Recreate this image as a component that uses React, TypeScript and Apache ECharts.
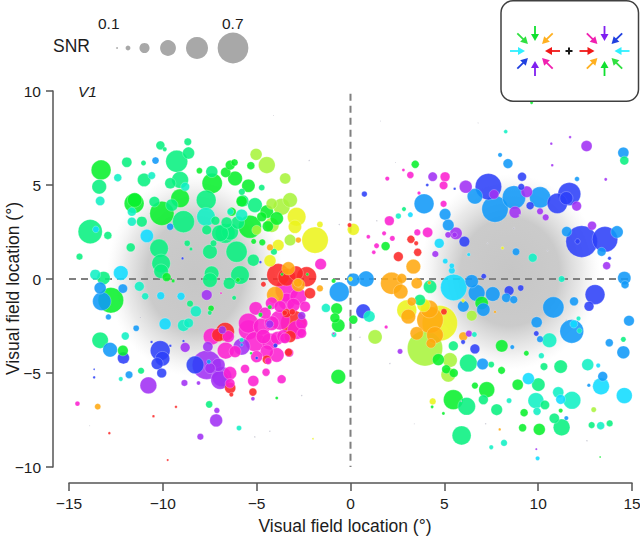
import React, { useEffect, useRef } from "react";
import * as echarts from "echarts";

type P = [number, number, number];

const xTicks = { min: -15, max: 15, step: 5 };
const yTicks = { min: -10, max: 10, step: 5 };
const legendSnr = [0.04, 0.11, 0.23, 0.36, 0.5, 0.7];
const arrowColors = ["#f01818", "#ffb020", "#10e030", "#30e040", "#30f0ff", "#2040e0", "#8020f0", "#f020b0"];

const green: P[] = [
  [-13.29,5.8,.45],[-11.53,4.02,.45],[-11.5,4.2,.33],[-10.05,3.49,.55],[-9.08,4.29,.42],[-7.37,5.09,.46],[-6.65,5.67,.23],[-6.41,6.06,.22],[-6.18,6.2,.16],[-6.15,5.35,.33],[-5.31,6.03,.18],[-5.44,4.96,.3],[-4.46,3.58,.3],[-3.93,3.22,.3],[-5.36,2.78,.52],[-4.73,3.31,.22],[-4.4,2.8,.25],[-5.16,2.0,.12],[-4.7,1.95,.15],[-8.05,5.76,.14],[-6.33,3.58,.2],[-5.8,4.13,.25],
  [-12.77,-1.13,.58],[-12.13,-3.81,.24],[-7.43,-1.56,.14],[-.74,-1.58,.26],[-.83,-2.07,.22],[-.65,-2.47,.3],[.15,-2.16,.2],[-.65,-5.2,.33],[4.68,-4.29,.27],[5.1,-4.8,.2],[5.5,-5,.2],[1.87,1.75,.2],[3.45,6.1,.18],[5.48,-6.42,.45],[6.63,-5.67,.15],[7.26,-5.89,.36],[8.05,-4.86,.17],[8.06,-3.56,.28],[8.91,-5.62,.25],[9.25,-7.11,.18],[9.17,-7.91,.18],[10.06,-8,.27],[11.2,-7,.1],[9.37,-3.95,.12],[6.99,-1.28,.3],[-3.93,-6.33,.07],[4.35,-6.8,.07],[4.95,-7.15,.07],[13.3,-9.47,.04],[9.65,9.38,.07],[-.9,-.1,.1],[-9.8,.1,.2],[-6.0,-.05,.1],[-9.45,-.1,.08],[-4.3,-1.5,.1],[-4.8,-1.9,.1],[-3.65,.25,.07],[-2.3,.25,.07],[-5.3,-3.95,.06],
];
const spring: P[] = [
  [-13.39,4.91,.33],[-13.87,2.52,.55],[-12.93,2.32,.18],[-14.44,1.19,.15],[-11.92,6.21,.23],[-11.03,6.17,.12],[-10.13,7.11,.2],[-9.9,6.9,.1],[-8.67,7.3,.17],[-9.26,6.26,.5],[-8.63,6.7,.27],[-11,5.27,.3],[-11.12,3.05,.24],[-11.71,1.68,.2],[-10.2,1.63,.42],[-10.09,.83,.42],[-9.52,3.93,.28],[-10.45,4.11,.24],[-9.6,5.09,.25],[-9.08,5.27,.38],[-8.9,3.05,.5],[-7.69,4.2,.45],[-7.66,2.61,.22],[-7.39,5.71,.27],[-5.79,4.64,.15],[-5.74,4.15,.27],[-4.73,4.86,.14],[-5.09,3.93,.33],[-6.68,2.43,.45],[-6.42,2.51,.38],[-6.95,2.43,.38],[-6.07,1.45,.48],[-7.49,1.45,.33],[-7.3,1.9,.15],[-8.7,1.9,.14],[-8.5,1.6,.08],[-5.18,1,.27],[-4.08,1.45,.15],[-6,3,.3],[-6.6,3,.25],[-7.2,3.1,.2],
  [-13.16,.05,.3],[-13.34,-3.26,.37],[-11.16,-4.88,.15],[-10.09,.41,.33],[-7.4,.3,.33],[-7.49,-.06,.33],[-8.55,-1.31,.15],[-6.46,-.23,.27],[-5.89,.21,.42],[-7.5,-1.8,.1],[-6.2,-1,.1],[-7.53,-6.67,.16],
  [4.24,-.41,.3],[3.7,-1.12,.25],[5.48,-3.56,.22],[6.28,-4.47,.4],[6.19,-6.77,.4],[5.92,-8.32,.43],[7.08,-6.42,.22],[7.79,-6.95,.26],[10.01,-5.62,.3],[10.36,-6.7,.21],[10.31,-4.66,.17],[11.2,-4.66,.3],[10.86,-7.41,.23],[11.25,-7.89,.38],[12.85,-7.77,.15],[13.81,-7.68,.15],[14.59,6.3,.2],[14.54,-3.21,.12],[2.85,3.72,.1],[7.5,-4.55,.14],
];
const teal: P[] = [
  [-13.34,4.15,.21],[-12.4,5.39,.18],[-10.59,5.5,.17],[-11.65,3.58,.2],[-11.65,3.05,.2],[-8.81,4.91,.2],[-7.7,3.31,.42],[-5.8,3.4,.27],[-6.4,3.58,.15],
  [-13.6,.23,.24],[-12,-3.03,.18],[-11.25,-.39,.22],[-10.94,-.92,.16],[-12.24,-5.32,.1],[-8.24,-1.72,.25],[-8.63,-2.34,.22],[-8.9,-2.47,.27],[-5.94,-7.93,.12],[-5.8,-3.24,.1],
  [-1.31,-1.54,.2],[-.88,-2.96,.12],[1,-1.99,.26],[2.55,3.35,.13],[8.27,7.84,.09],[9.71,1.13,.2],[11.25,0,.15],[10.6,-3.26,.33],[10.17,-4.08,.13],[12.64,-4.56,.27],[11.07,-6.03,.25],[11.8,-6.45,.4],[9.88,-6.47,.36],[9.94,-7.04,.18],[8.45,-6.47,.12],[7.5,-8.95,.1],[8.18,-8.72,.15],[13.33,-7.8,.18],[6.6,-2.95,.12],[12.2,-2.75,.12],[12.15,-2.1,.1],
];
const cyan: P[] = [
  [-13.57,2.64,.15],[-12.24,.32,.33],[-10.85,2.29,.3],[-9.88,-2.39,.27],[-10.11,-.89,.18],[-9.03,-.92,.18],[4.73,1.9,.22],[5.05,.95,.12],[5.4,.7,.12],[5.4,.45,.15],[3.19,3.42,.12],[5.5,-.45,.6],[9.48,-5.3,.27],[13.35,-5.71,.38],[14.59,-6.2,.36],[11.2,-6.4,.22],[9.97,-9.54,.1],[13.2,-4.6,.1],[11.9,-2.4,.18],[6.3,1.3,.08],
];
const azure: P[] = [
  [-10.39,6.3,.16],[-9.61,2.78,.16],[-13.34,-.48,.27],[-12.13,-.51,.21],[-13.25,-1.19,.42],[-12.9,-2.02,.13],[-11.42,-2.62,.14],[-11.8,-5.09,.17],[-12.81,-3.76,.33],
  [3.92,4,.45],[5.04,3.44,.26],[5.21,2.87,.26],[6.63,4.4,.35],[7.7,3.72,.6],[8.71,4.34,.53],[10.1,4.34,.48],[11.52,2.52,.23],[14.54,6.72,.25],[8.39,6.14,.22],[7.97,6.6,.1],[12.07,5.32,.11],[13.38,1.45,.2],[8.82,1.45,.17],[14.2,2.5,.28],
  [-.6,-.69,.45],[.15,-.04,.3],[.83,0,.36],[7.08,-1.63,.3],[6.72,-.74,.38],[6.01,-1.45,.26],[6.46,-.12,.3],[7.58,-.8,.33],[8.3,-1,.21],[8.7,-1.1,.18],[10.81,-1.51,.48],[9.92,-2.3,.25],[11.91,-1.19,.2],[11.79,-2.78,.54],[14.84,-2.22,.24],[13.79,-3.39,.18],[14.54,-3.9,.29],[14.59,.05,.3],[14.63,-.3,.18],[10.1,-3.2,.15],[13.44,-5.18,.22],[7.04,-4.52,.26],[8.62,-3.62,.1],[12.7,-5.65,.08],[11.5,-7.4,.1],[-7.55,-4.4,.1],[-5.8,-3.5,.07],
];
const blue: P[] = [
  [-10.14,-3.81,.45],[-10.02,-4.24,.33],[-10.3,-4.5,.27],[-10.06,-5,.22],[-12.1,-4.2,.27],[-8.28,-4.57,.4],[-13.66,-5.23,.06],[-13.66,-4.8,.04],[-8.9,-3.3,.06],[-10.6,-3.35,.06],[-9.6,-3.55,.06],
  [.74,4.52,.13],[6.07,1.99,.24],[9.57,3.9,.18],[11.02,4.02,.46],[11.66,4.52,.52],[11.5,4.3,.3],[12.32,1.99,.72],[13.56,2.11,.58],[12.1,2,.12],[7.35,4.91,.6],[9.14,5.44,.2],[9.1,4.9,.15],[13.8,1.1,.08],
  [.68,-1.72,.33],[6.63,-3.72,.22],[6.0,-3.35,.1],[8.45,-.62,.22],[9.07,-.48,.14],[7.1,.15,.12],[13.03,-.83,.45],[12.71,-1.45,.22],[9.9,-2.9,.12],[-4.8,.9,.06],[-8.95,1.1,.06],[4.09,5,.07],[5.55,4.8,.06],[-4,-3.54,.1],[-5,-4.2,.07],
];
const violet: P[] = [
  [4.38,5.44,.21],[6.14,4.91,.29],[7.65,4.5,.22],[8.77,3.55,.27],[9.39,4.64,.26],[10.1,3.6,.15],[10.4,3.28,.15],[12.05,3.88,.22],[12.58,7.07,.25],[12.87,2.84,.2],[13.65,.71,.18],[5.62,2.43,.28],[5.2,2.35,.14],[5.55,2.35,.12],[4.52,1.33,.15],[10.7,7.2,.06],[11.7,7.55,.06],[10.75,6.05,.06],[13.6,5.3,.07],
  [-10.77,-5.66,.38],[-7.66,-.85,.24],[-8.81,-3.64,.22],[-7.66,-4.57,.66],[-7.6,-3.6,.23],[-6.95,-5.37,.42],[-6.86,-5.19,.45],[-7.04,-4.57,.3],[-7.48,-4.75,.24],[-8.85,-5.53,.15],[-8.1,-5.53,.09],[-7.12,-6.99,.13],[-7.16,-7.52,.29],[-8,-8.39,.15],[-5.2,-6.37,.09],[2.64,-3.85,.12],[6.31,-2.91,.15],[-5.8,-3.6,.38],[-6.83,-2.71,.18],[-4.3,-2.4,.18],[9.9,-9.05,.05],[-2.6,-1.95,.18],
];
const magenta: P[] = [
  [3.19,5.53,.16],[1.96,5.34,.1],[2.82,5.8,.07],[5.04,5.44,.22],[4.96,4.98,.19],[3.65,4.57,.08],[4.96,4,.15],[2.07,3.1,.22],[.95,2.25,.09],[1.79,2.43,.1],[1.39,1.77,.12],[2.23,2.16,.12],[1.24,1.42,.09],[3.56,2.48,.15],[4.11,2.48,.23],[-1.59,.79,.26],
  [-7.4,-3.06,.38],[-6.65,-3.81,.38],[-5.44,-2.71,.45],[-5.44,-2.35,.45],[-5.09,-3.33,.45],[-5,-4.13,.27],[-5.05,-1.56,.3],[-4.2,-1.29,.28],[-3.4,-.59,.52],[-3.4,-1.2,.38],[-2.78,-.94,.38],[-3.75,-2.18,.45],[-2.87,-2.71,.42],[-3.9,-3.15,.3],[-4.29,-3.33,.38],[-3.93,-4.04,.33],[-3.27,-3.92,.2],[-4.38,-4.36,.16],[-5.18,-5.42,.25],[-5.62,-4.78,.2],[-4.5,-4.96,.18],[-3.67,-5.33,.2],[-6.42,-5.01,.3],[-14.55,-6.63,.11],[-6.9,-.75,.05],[-.9,-2.9,.05],[1.9,-2.55,.08],[-3.57,-3.05,.3],
  [-4.73,-2.53,.38],[-4.2,-2.35,.33],[-4.64,-3.06,.33],[-6.15,-3.86,.27],[-6.51,-3.06,.27],[-4.46,-3.86,.3],[-3.49,-3.15,.24],[-3.04,-1.38,.3],[-2.42,-1.47,.24],[-3.75,-1.47,.27],[-4.55,-1.82,.27],[-2.6,-2.35,.27],[-6.42,-5.55,.22],[-2.6,-2.89,.22],
];
const red: P[] = [
  [-3.04,-2.35,.58],[-2.16,-.76,.25],[-2.34,.12,.45],[-3.85,.21,.52],[-2.9,.3,.33],[-3.4,.1,.4],[-6.68,-2.8,.42],[-7.04,-2.98,.3],[-3.22,-3.06,.27],[-3.4,-1.82,.2],[-3.3,-3.9,.18],[-4.46,-4.29,.2],[-6.41,-5.8,.25],[-5.2,-6.01,.18],[-6.35,-6.15,.1],[3.22,2.11,.18],[3.58,1.42,.18],[2.55,1.19,.22],[3.5,1.9,.1],[-9.74,-9.63,.05],[-10.5,-7.3,.06],[-12.85,-8.2,.06],[-9.3,-6.8,.06],[-.05,2.87,.1],[-3.5,-1.8,.12],[-3.1,-1.75,.14],[4.98,-1.74,.14],[-4.64,-.28,.12],
];
const orange: P[] = [
  [-3.31,.56,.3],[-2.78,-.32,.3],[-4.02,-.85,.38],[-4.29,1.68,.15],[-2.78,2.07,.13],[-1.63,-.5,.15],[-2.8,-.2,.2],[-13.47,-6.79,.14],[3.35,.66,.33],[2.19,-.23,.5],[2.73,.03,.22],[2.67,-.67,.33],[3.53,-.23,.25],[3.26,-1.2,.2],[3.08,-2,.33],[4.24,-2.18,.6],[3.53,-2.89,.3],[4.5,-2.98,.38],[4.29,-3.42,.22],[4.2,-1.6,.4],[6.01,-3.05,.2],[7.95,-8,.06],[4.2,-.2,.08],[7.7,-1.75,.06],
];
const yellow: P[] = [
  [-2.87,3.31,.42],[-2.96,2.78,.3],[-1.89,2.07,.6],[-3.85,1.8,.26],[-4.29,.97,.27],[-1.63,2.9,.14],[.15,2.64,.27],[4.76,-2.35,.8],[3,-1.65,.45],[3.9,-1.4,.3],[4.38,-6.51,.15],[6.0,-1.15,.08],[8.1,1.65,.07],[-2,-8.5,.04],[0,0,.1],
];
const lime: P[] = [
  [-5.03,6.63,.27],[-4.46,6.06,.38],[-3.48,5.35,.25],[-3.22,4.2,.33],[-3.67,3.84,.38],[-4.2,4,.25],[-3.22,2.07,.26],[-4.2,2.87,.33],[-5,2.6,.22],[1.31,-3.08,.32],[3.97,-3.69,.8],[5.3,-4.31,.33],[5.21,-5.09,.33],[6.46,-1.95,.24],[12.96,-6.95,.12],
];
const faint: P[] = [
  [-11.2,-2.05,.03],[-13.9,-7.8,.02],[-5.1,-8.4,.03],[-4.3,-8.1,.03],[-4.1,8.7,.02],[1.6,8.4,.02],[6.8,8.3,.02],[11.5,-2.2,.03],[1.4,3.1,.03],[-.6,2.9,.03],[2.4,6.2,.02],[9,3.4,.03],[10.5,1.5,.03],[8.7,2.7,.04],[7.3,1.9,.03],[-2.2,6.3,.03],[.5,-3.1,.03],[2.1,-4.5,.03],[3.4,-7.7,.02],[7.2,-7.7,.03],[5.9,-6.5,.03],[12.6,-8.6,.03],[-2.6,-6.2,.03],
];

const colorGroups: [P[], string][] = [
  [green, "#08f02c"], [spring, "#08f080"], [teal, "#10f0c4"], [cyan, "#10dcff"], [azure, "#1098f8"],
  [blue, "#2c40f8"], [violet, "#a030f4"], [magenta, "#fc20d0"], [red, "#fc2828"], [orange, "#ffa810"],
  [yellow, "#ecf41c"], [lime, "#a8f43c"], [faint, "#b0b0c0"],
];

const AXIS = "#555555";
const TEXT = "#1c1c1c";
const FONT = "'Liberation Sans', Arial, sans-serif";
const sizeOf = (snr: number) => snr * 44;
const tickText = (v: number) => String(v).replace("-", "\u2212");

function arrow(cx: number, cy: number, deg: number, color: string, key: string) {
  const a = (deg * Math.PI) / 180;
  const ux = Math.cos(a), uy = -Math.sin(a);
  const px = -uy, py = ux;
  const outer = 25, neck = 16, tip = 10, half = 4;
  return [
    { type: "line", id: key + "l", silent: true,
      shape: { x1: cx + ux * outer, y1: cy + uy * outer, x2: cx + ux * neck, y2: cy + uy * neck },
      style: { stroke: color, lineWidth: 1.8 } },
    { type: "polygon", id: key + "p", silent: true,
      shape: { points: [
        [cx + ux * tip, cy + uy * tip],
        [cx + ux * (neck + 1) + px * half, cy + uy * (neck + 1) + py * half],
        [cx + ux * (neck + 1) - px * half, cy + uy * (neck + 1) - py * half],
      ] },
      style: { fill: color } },
  ];
}

export default function App() {
  const ref = useRef<HTMLDivElement>(null);
  useEffect(() => {
    const chart = echarts.init(ref.current!, undefined, { renderer: "svg" });
    const items = colorGroups
      .flatMap(([pts, color]) => pts.map((p) => ({ value: p, itemStyle: { color } })))
      .sort((a, b) => b.value[2] - a.value[2]);

    const legendX = [117, 128, 144.5, 168, 197, 233];
    const arrows: any[] = [];
    const angles = [0, 45, 90, 135, 180, 225, 270, 315];
    angles.forEach((d, i) => {
      arrows.push(...arrow(535, 51, d, arrowColors[i], "a" + i));
      arrows.push(...arrow(604.5, 51, 180 + d, arrowColors[i], "b" + i));
    });

    const blob = () =>
      new echarts.graphic.RadialGradient(0.5, 0.5, 0.5, [
        { offset: 0, color: "rgba(198,198,198,1)" },
        { offset: 0.55, color: "rgba(200,200,200,0.95)" },
        { offset: 0.8, color: "rgba(210,210,210,0.45)" },
        { offset: 1, color: "rgba(230,230,230,0)" },
      ]);

    chart.setOption({
      animation: false,
      backgroundColor: "#ffffff",
      textStyle: { fontFamily: FONT },
      grid: { left: 69, right: 8, top: 91, bottom: 71, containLabel: false, outerBoundsMode: "none" },
      xAxis: {
        type: "value", min: xTicks.min, max: xTicks.max, interval: xTicks.step, offset: 16,
        axisLine: { onZero: false, lineStyle: { color: AXIS, width: 1.5 } },
        axisTick: { length: 8, lineStyle: { color: AXIS, width: 1.5 } },
        axisLabel: { fontFamily: FONT, fontSize: 15.5, color: TEXT, margin: 12, hideOverlap: false, formatter: tickText },
        splitLine: { show: false },
      },
      yAxis: {
        type: "value", min: yTicks.min, max: yTicks.max, interval: yTicks.step, offset: 16,
        axisLine: { onZero: false, lineStyle: { color: AXIS, width: 1.5 } },
        axisTick: { length: 7, lineStyle: { color: AXIS, width: 1.5 } },
        axisLabel: { fontFamily: FONT, fontSize: 15.5, color: TEXT, margin: 12, formatter: tickText },
        splitLine: { show: false },
      },
      graphic: [
        { type: "ellipse", id: "blobL", silent: true, z: 0, shape: { cx: 195, cy: 275, rx: 88, ry: 102 }, style: { fill: blob() } },
        { type: "ellipse", id: "blobR", silent: true, z: 0, shape: { cx: 510, cy: 272, rx: 90, ry: 98 }, style: { fill: blob() } },
        { type: "text", id: "xname", x: 345, y: 526, z: 5, style: { text: "Visual field location (°)", font: `17.5px ${FONT}`, fill: TEXT, align: "center", verticalAlign: "middle" } },
        { type: "text", id: "yname", x: 13, y: 288.5, rotation: Math.PI / 2, z: 5, style: { text: "Visual field location (°)", font: `17.5px ${FONT}`, fill: TEXT, align: "center", verticalAlign: "middle" } },
        { type: "text", id: "snr", x: 53, y: 37, z: 5, style: { text: "SNR", font: `17.5px ${FONT}`, fill: TEXT } },
        { type: "text", id: "s1", x: 98, y: 15, z: 5, style: { text: "0.1", font: `15.5px ${FONT}`, fill: TEXT } },
        { type: "text", id: "s7", x: 222, y: 15, z: 5, style: { text: "0.7", font: `15.5px ${FONT}`, fill: TEXT } },
        { type: "text", id: "v1", x: 78, y: 83, z: 5, style: { text: "V1", font: `italic 15.5px ${FONT}`, fill: TEXT } },
        ...legendSnr.map((s, i) => ({
          type: "circle", id: "lg" + i, silent: true, z: 5,
          shape: { cx: legendX[i], cy: 48, r: sizeOf(s) / 2 },
          style: { fill: "#a8a8a8" },
        })),
        { type: "rect", id: "box", silent: true, z: 5, shape: { x: 501, y: 0.75, width: 137.5, height: 100.5, r: 12 }, style: { fill: "#ffffff", stroke: "#404040", lineWidth: 1.5 } },
        { type: "line", id: "plusH", silent: true, z: 6, shape: { x1: 565.5, y1: 51, x2: 572.5, y2: 51 }, style: { stroke: "#1a1a1a", lineWidth: 2 } },
        { type: "line", id: "plusV", silent: true, z: 6, shape: { x1: 569, y1: 47.5, x2: 569, y2: 54.5 }, style: { stroke: "#1a1a1a", lineWidth: 2 } },
        ...arrows.map((a) => ({ ...a, z: 6 })),
      ],
      series: [
        { type: "line", z: 2, showSymbol: false, silent: true, data: [[-15, 0], [15, 0]], lineStyle: { color: "#808080", width: 2, type: [7, 5] } },
        { type: "line", z: 2, showSymbol: false, silent: true, data: [[0, 9.85], [0, -10]], lineStyle: { color: "#808080", width: 2, type: [7, 5] } },
        {
          type: "scatter", z: 3, clip: false, silent: true, data: items,
          symbolSize: (v: P) => sizeOf(v[2]),
          itemStyle: { opacity: 0.88, borderColor: "rgba(255,255,255,0.5)", borderWidth: 0.6 },
        },
      ],
    });
    return () => chart.dispose();
  }, []);
  return <div ref={ref} style={{ position: "absolute", left: 0, top: 0, width: 640, height: 538 }} />;
}
